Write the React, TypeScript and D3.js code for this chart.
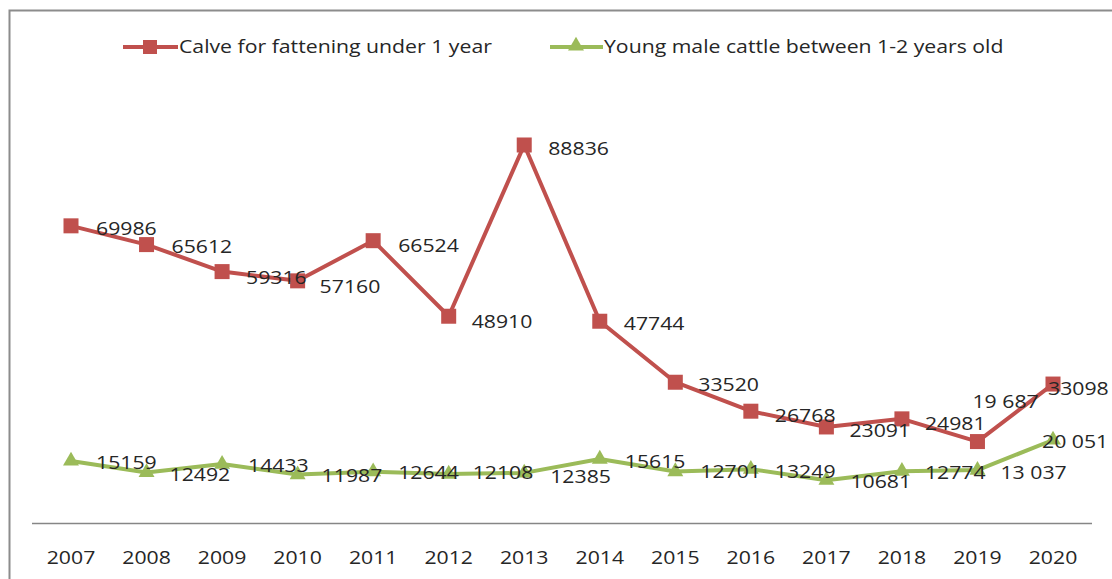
import React from "react";
import * as d3 from "d3";

const years = ["2007","2008","2009","2010","2011","2012","2013","2014","2015","2016","2017","2018","2019","2020"];
const calves = [69986,65612,59316,57160,66524,48910,88836,47744,33520,26768,23091,24981,19687,33098];
const calfLabels = ["69986","65612","59316","57160","66524","48910","88836","47744","33520","26768","23091","24981","19 687","33098"];
const youngMales = [15159,12492,14433,11987,12644,12108,12385,15615,12701,13249,10681,12774,13037,20051];
const youngLabels = ["15159","12492","14433","11987","12644","12108","12385","15615","12701","13249","10681","12774","13 037","20 051"];
const seriesNames = ["Calve for fattening under 1 year","Young male cattle between 1-2 years old"];

// label offsets (dx, dy) relative to the point
const calfOffsets: [number, number][] = [[25,2],[25,2],[24,6],[22,5],[25,4],[23,5],[24,3],[24,2],[23,2],[24,4],[23,3],[23,4],[-5,-40],[-5,4]];
const youngOffsets: [number, number][] = [[25,1],[23,2],[26,1],[24,1],[25,0],[24,-2],[26,3],[25,2],[25,0],[24,2],[24,1],[23,1],[23,2],[-11,1]];

const W = 1112, H = 579;
const RED = "#C0504D";
const GREEN = "#9BBB59";
const FONT = "'Open Sans', sans-serif";
const SX = 1.18;

function Txt({ x, y, children, size = 18, anchor = "start" }: any) {
  return (
    <g transform={`translate(${x},${y}) scale(${SX},1)`}>
      <text fontFamily={FONT} fontSize={size} fill="#262626" dominantBaseline="central" textAnchor={anchor}>{children}</text>
    </g>
  );
}

export default function App() {
  const x = d3.scalePoint<string>().domain(years).range([71, 1053]);
  const y = d3.scaleLinear().domain([0, 90000]).range([526, 140]);
  const line = d3.line<number>().x((_, i) => x(years[i])!).y((d) => y(d));
  const tri = d3.symbol().type(d3.symbolTriangle).size(110)()!;

  return (
    <svg width={W} height={H} style={{ position: "absolute", left: 0, top: 0, background: "#fff" }}>
      <rect x={0} y={0} width={W} height={H} fill="#fff" />
      <path d={`M9.5,${H} V10.5 H${W}`} fill="none" stroke="#8c8c8c" strokeWidth={2} />
      {/* legend */}
      <line x1={123} x2={178} y1={47} y2={47} stroke={RED} strokeWidth={4} />
      <rect x={143} y={40} width={14} height={14} fill={RED} />
      <Txt x={179} y={46}>{seriesNames[0]}</Txt>
      <line x1={550} x2={603} y1={47} y2={47} stroke={GREEN} strokeWidth={4} />
      <path d={tri} transform={`translate(576,46)`} fill={GREEN} />
      <Txt x={604} y={46}>{seriesNames[1]}</Txt>
      {/* axis */}
      <line x1={32} x2={1092} y1={523.5} y2={523.5} stroke="#868686" strokeWidth={1.3} />
      {years.map((yr) => (
        <Txt key={yr} x={x(yr)} y={557} size={18} anchor="middle">{yr}</Txt>
      ))}
      {/* series */}
      <path d={line(calves)!} fill="none" stroke={RED} strokeWidth={4} strokeLinejoin="round" />
      <path d={line(youngMales)!} fill="none" stroke={GREEN} strokeWidth={4} strokeLinejoin="round" />
      {calves.map((v, i) => (
        <rect key={i} x={x(years[i])! - 7.5} y={y(v) - 7.5} width={15} height={15} fill={RED} />
      ))}
      {youngMales.map((v, i) => (
        <path key={i} d={tri} transform={`translate(${x(years[i])},${y(v)})`} fill={GREEN} />
      ))}
      {calves.map((v, i) => (
        <Txt key={i} x={x(years[i])! + calfOffsets[i][0]} y={y(v) + calfOffsets[i][1]}>{calfLabels[i]}</Txt>
      ))}
      {youngMales.map((v, i) => (
        <Txt key={i} x={x(years[i])! + youngOffsets[i][0]} y={y(v) + youngOffsets[i][1]}>{youngLabels[i]}</Txt>
      ))}
    </svg>
  );
}
